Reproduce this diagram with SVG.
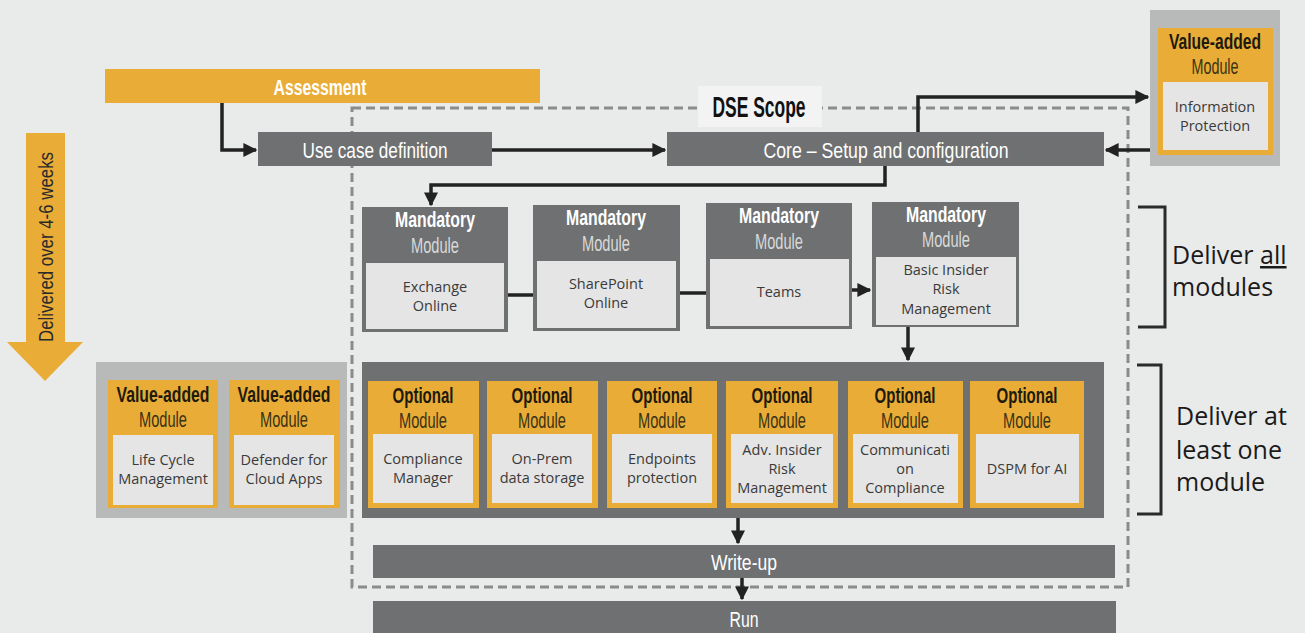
<svg xmlns="http://www.w3.org/2000/svg" width="1305" height="633" viewBox="0 0 1305 633">
<defs>
<style>
.bg{fill:#e9eaea}
.gray{fill:#6e7072}
.org{fill:#e9ad37}
.pale{fill:#e5e5e5}
.cont{fill:#b8baba}
.cond{font-family:"Liberation Sans","Arial",sans-serif;text-anchor:middle}
.bar{fill:#ffffff;font-size:22px}
.mh{fill:#ffffff;font-size:22px;font-weight:bold}
.mm{fill:#d9d9d9;font-size:22px}
.oh{fill:#1e1a0e;font-size:22px;font-weight:bold}
.om{fill:#3b3214;font-size:22px}
.in{font-family:"Open Sans","Noto Sans","Liberation Sans",sans-serif;font-size:14.5px;fill:#3a3a3a;text-anchor:middle}
.side{font-family:"Open Sans","Noto Sans","Liberation Sans",sans-serif;font-size:25px;fill:#1a1a1a}
.ln{fill:none;stroke:#222;stroke-width:3.5}
</style>
<marker id="ah" viewBox="0 0 10 10" refX="9" refY="5" markerWidth="4" markerHeight="4" orient="auto" markerUnits="strokeWidth">
<path d="M0,0 L10,5 L0,10 z" fill="#222"/>
</marker>
</defs>
<rect class="bg" x="0" y="0" width="1305" height="633"/>

<g id="dse-scope">
<rect x="352" y="108" width="776" height="479" fill="none" stroke="#8a8b8b" stroke-width="3" stroke-dasharray="9,5"/>
<rect x="698" y="86" width="124" height="41" fill="#f3f3f3"/>
<text class="cond" x="759" y="117" font-size="29" font-weight="bold" fill="#111" textLength="93" lengthAdjust="spacingAndGlyphs">DSE Scope</text>
</g>

<g id="delivered-arrow">
<path class="org" d="M26,133 H65 V342 H83 L45,381 L7,342 H26 Z"/>
<text class="cond" transform="translate(53,247) rotate(-90)" font-size="21" fill="#2a2a2a" textLength="190" lengthAdjust="spacingAndGlyphs">Delivered over 4-6 weeks</text>
</g>

<g id="assessment">
<rect class="org" x="105" y="69" width="435" height="34"/>
<text class="cond bar" x="320" y="95" font-weight="bold" textLength="93" lengthAdjust="spacingAndGlyphs">Assessment</text>
</g>

<g id="use-case">
<rect class="gray" x="258" y="132" width="234" height="34"/>
<text class="cond bar" x="375" y="158" textLength="145" lengthAdjust="spacingAndGlyphs">Use case definition</text>
</g>

<g id="core">
<rect class="gray" x="667" y="132" width="437" height="34"/>
<text class="cond bar" x="886" y="158" textLength="245" lengthAdjust="spacingAndGlyphs">Core – Setup and configuration</text>
</g>

<g id="info-protection">
<rect class="cont" x="1150" y="10" width="130" height="156"/>
<rect class="org" x="1158" y="28" width="115" height="127"/>
<rect class="pale" x="1163" y="82" width="105" height="68"/>
<text class="cond oh" x="1215" y="49" textLength="92" lengthAdjust="spacingAndGlyphs">Value-added</text>
<text class="cond om" x="1215" y="74" textLength="47" lengthAdjust="spacingAndGlyphs">Module</text>
<text class="in" x="1215" y="112">Information</text>
<text class="in" x="1215" y="131">Protection</text>
</g>

<g id="mandatory-exchange">
<rect class="gray" x="362" y="207" width="146" height="125"/>
<rect class="pale" x="366" y="263" width="138" height="66"/>
<text class="cond mh" x="435" y="227" textLength="80" lengthAdjust="spacingAndGlyphs">Mandatory</text>
<text class="cond mm" x="435" y="253" textLength="48" lengthAdjust="spacingAndGlyphs">Module</text>
<text class="in" x="435" y="292">Exchange</text>
<text class="in" x="435" y="311">Online</text>
</g>
<g id="mandatory-sharepoint">
<rect class="gray" x="533" y="205" width="147" height="126"/>
<rect class="pale" x="537" y="261" width="139" height="67"/>
<text class="cond mh" x="606" y="225" textLength="80" lengthAdjust="spacingAndGlyphs">Mandatory</text>
<text class="cond mm" x="606" y="251" textLength="48" lengthAdjust="spacingAndGlyphs">Module</text>
<text class="in" x="606" y="289">SharePoint</text>
<text class="in" x="606" y="308">Online</text>
</g>
<g id="mandatory-teams">
<rect class="gray" x="706" y="203" width="146" height="126"/>
<rect class="pale" x="710" y="259" width="139" height="67"/>
<text class="cond mh" x="779" y="223" textLength="80" lengthAdjust="spacingAndGlyphs">Mandatory</text>
<text class="cond mm" x="779" y="249" textLength="48" lengthAdjust="spacingAndGlyphs">Module</text>
<text class="in" x="779" y="297">Teams</text>
</g>
<g id="mandatory-insider">
<rect class="gray" x="872" y="202" width="147" height="125"/>
<rect class="pale" x="876" y="257" width="140" height="68"/>
<text class="cond mh" x="946" y="222" textLength="80" lengthAdjust="spacingAndGlyphs">Mandatory</text>
<text class="cond mm" x="946" y="247" textLength="48" lengthAdjust="spacingAndGlyphs">Module</text>
<text class="in" x="946" y="275">Basic Insider</text>
<text class="in" x="946" y="294">Risk</text>
<text class="in" x="946" y="314">Management</text>
</g>

<g id="optional-container">
<rect class="gray" x="362" y="362" width="742" height="156"/>
</g>

<g id="opt-compliance">
<rect class="org" x="368" y="381" width="111" height="127"/>
<rect class="pale" x="373" y="434" width="100" height="69"/>
<text class="cond oh" x="423" y="403" textLength="61" lengthAdjust="spacingAndGlyphs">Optional</text>
<text class="cond om" x="423" y="428" textLength="48" lengthAdjust="spacingAndGlyphs">Module</text>
<text class="in" x="423" y="464">Compliance</text>
<text class="in" x="423" y="483">Manager</text>
</g>
<g id="opt-onprem">
<rect class="org" x="487" y="381" width="111" height="127"/>
<rect class="pale" x="492" y="434" width="100" height="69"/>
<text class="cond oh" x="542" y="403" textLength="61" lengthAdjust="spacingAndGlyphs">Optional</text>
<text class="cond om" x="542" y="428" textLength="48" lengthAdjust="spacingAndGlyphs">Module</text>
<text class="in" x="542" y="464">On-Prem</text>
<text class="in" x="542" y="483">data storage</text>
</g>
<g id="opt-endpoints">
<rect class="org" x="607" y="381" width="110" height="127"/>
<rect class="pale" x="612" y="434" width="100" height="69"/>
<text class="cond oh" x="662" y="403" textLength="61" lengthAdjust="spacingAndGlyphs">Optional</text>
<text class="cond om" x="662" y="428" textLength="48" lengthAdjust="spacingAndGlyphs">Module</text>
<text class="in" x="662" y="464">Endpoints</text>
<text class="in" x="662" y="483">protection</text>
</g>
<g id="opt-adv-insider">
<rect class="org" x="726" y="381" width="112" height="127"/>
<rect class="pale" x="731" y="434" width="102" height="69"/>
<text class="cond oh" x="782" y="403" textLength="61" lengthAdjust="spacingAndGlyphs">Optional</text>
<text class="cond om" x="782" y="428" textLength="48" lengthAdjust="spacingAndGlyphs">Module</text>
<text class="in" x="782" y="455">Adv. Insider</text>
<text class="in" x="782" y="474">Risk</text>
<text class="in" x="782" y="493">Management</text>
</g>
<g id="opt-communication">
<rect class="org" x="848" y="381" width="115" height="127"/>
<rect class="pale" x="853" y="434" width="105" height="69"/>
<text class="cond oh" x="905" y="403" textLength="61" lengthAdjust="spacingAndGlyphs">Optional</text>
<text class="cond om" x="905" y="428" textLength="48" lengthAdjust="spacingAndGlyphs">Module</text>
<text class="in" x="905" y="455">Communicati</text>
<text class="in" x="905" y="474">on</text>
<text class="in" x="905" y="493">Compliance</text>
</g>
<g id="opt-dspm">
<rect class="org" x="970" y="381" width="114" height="127"/>
<rect class="pale" x="976" y="434" width="103" height="69"/>
<text class="cond oh" x="1027" y="403" textLength="61" lengthAdjust="spacingAndGlyphs">Optional</text>
<text class="cond om" x="1027" y="428" textLength="48" lengthAdjust="spacingAndGlyphs">Module</text>
<text class="in" x="1027" y="474">DSPM for AI</text>
</g>

<g id="value-added-left">
<rect class="cont" x="96" y="362" width="251" height="156"/>
</g>
<g id="va-lifecycle">
<rect class="org" x="108" y="380" width="110" height="128"/>
<rect class="pale" x="113" y="435" width="100" height="70"/>
<text class="cond oh" x="163" y="402" textLength="93" lengthAdjust="spacingAndGlyphs">Value-added</text>
<text class="cond om" x="163" y="427" textLength="48" lengthAdjust="spacingAndGlyphs">Module</text>
<text class="in" x="163" y="465">Life Cycle</text>
<text class="in" x="163" y="484">Management</text>
</g>
<g id="va-defender">
<rect class="org" x="229" y="380" width="111" height="128"/>
<rect class="pale" x="234" y="435" width="100" height="70"/>
<text class="cond oh" x="284" y="402" textLength="93" lengthAdjust="spacingAndGlyphs">Value-added</text>
<text class="cond om" x="284" y="427" textLength="48" lengthAdjust="spacingAndGlyphs">Module</text>
<text class="in" x="284" y="465">Defender for</text>
<text class="in" x="284" y="484">Cloud Apps</text>
</g>

<g id="write-up">
<rect class="gray" x="373" y="545" width="742" height="33"/>
<text class="cond bar" x="744" y="570" textLength="66" lengthAdjust="spacingAndGlyphs">Write-up</text>
</g>
<g id="run">
<rect class="gray" x="373" y="601" width="743" height="40"/>
<text class="cond bar" x="744" y="627" textLength="29" lengthAdjust="spacingAndGlyphs">Run</text>
</g>

<g id="brackets">
<path d="M1138,207 H1165 V327 H1138" fill="none" stroke="#2a2a2a" stroke-width="3"/>
<path d="M1137,365 H1161 V514 H1137" fill="none" stroke="#2a2a2a" stroke-width="3"/>
<text class="side" x="1172" y="264">Deliver <tspan text-decoration="underline">all</tspan></text>
<text class="side" x="1172" y="296">modules</text>
<text class="side" x="1176" y="425">Deliver at</text>
<text class="side" x="1176" y="459">least one</text>
<text class="side" x="1176" y="491">module</text>
</g>

<g id="connectors">
<path class="ln" d="M222,103 V150 H256" marker-end="url(#ah)"/>
<path class="ln" d="M492,150 H665" marker-end="url(#ah)"/>
<path class="ln" d="M918,132 V97 H1148" marker-end="url(#ah)"/>
<path class="ln" d="M1150,150 H1106" marker-end="url(#ah)"/>
<path class="ln" d="M885,166 V185 H431 V205" marker-end="url(#ah)"/>
<path class="ln" d="M508,295 H533"/>
<path class="ln" d="M680,293 H706"/>
<path class="ln" d="M852,290 H870" marker-end="url(#ah)"/>
<path class="ln" d="M908,327 V360" marker-end="url(#ah)"/>
<path class="ln" d="M738,518 V543" marker-end="url(#ah)"/>
<path class="ln" d="M742,578 V599" marker-end="url(#ah)"/>
</g>
</svg>
